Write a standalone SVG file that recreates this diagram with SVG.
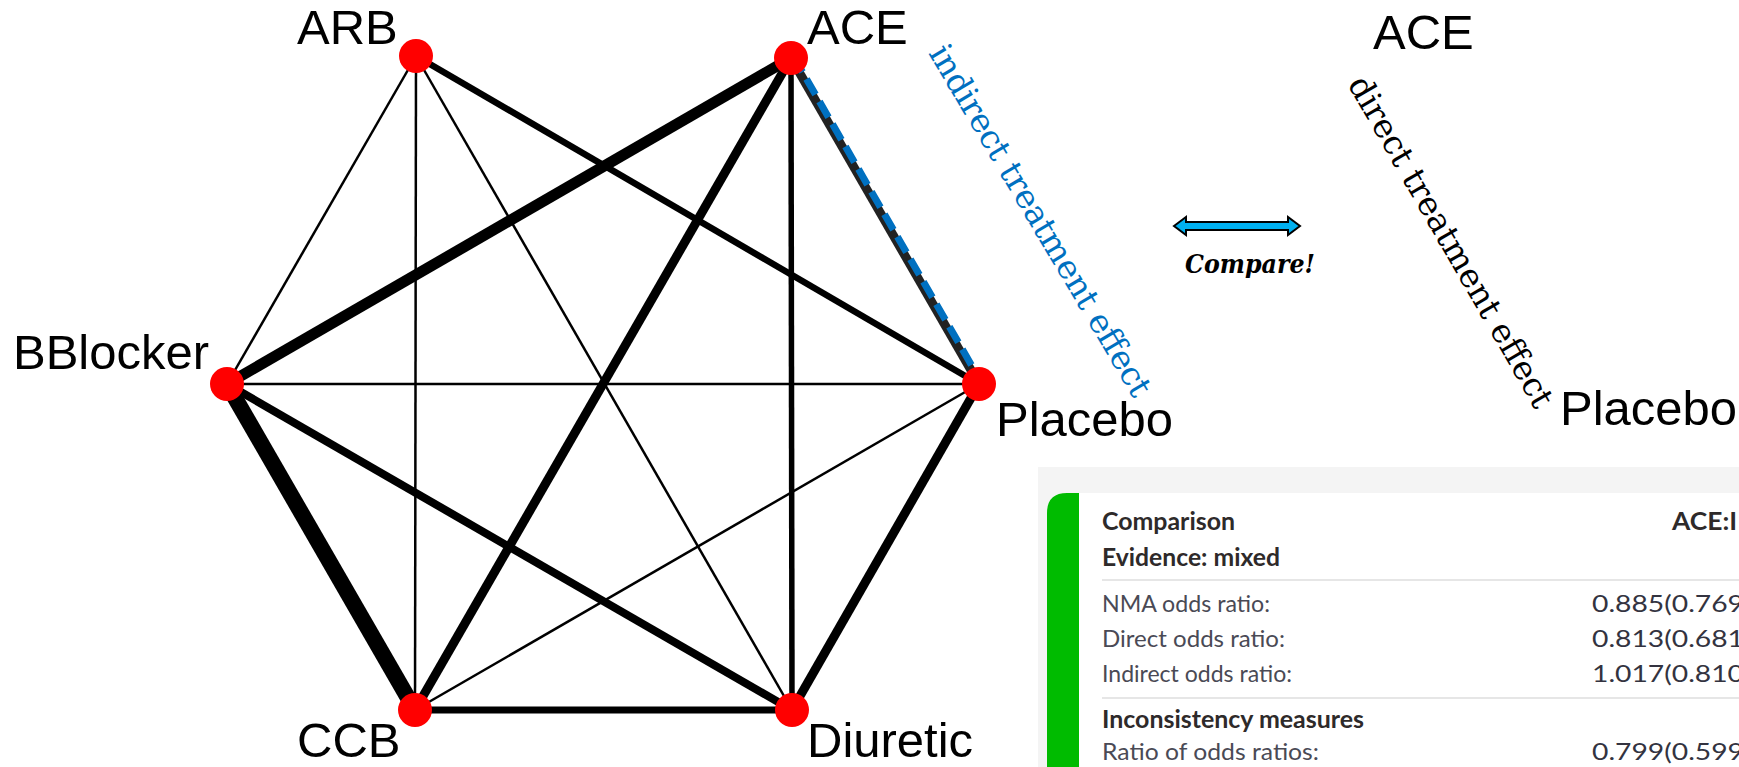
<svg xmlns="http://www.w3.org/2000/svg" width="1739" height="767" viewBox="0 0 1739 767">
<style>
.lbl{font-family:"Liberation Sans",Arial,sans-serif;font-size:49px;fill:#000}
.node{fill:#ff0000}
.e{stroke:#000;fill:none}
.slab{font-family:"DejaVu Serif","Liberation Serif",serif;font-size:33px}
.tb{font-family:"Liberation Sans Narrow","Lato",sans-serif;font-size:24px}
.hd{fill:#2e2a2a;font-weight:bold}
.rw{fill:#4a4a55}
.nm{fill:#333340}
</style>
<rect width="1739" height="767" fill="#fff"/>
<g id="connectors">
<line class="e" x1="416" y1="56" x2="227" y2="384" stroke-width="2.5"/>
<line class="e" x1="416" y1="56" x2="415" y2="710" stroke-width="2.5"/>
<line class="e" x1="416" y1="56" x2="792" y2="710" stroke-width="2.5"/>
<line class="e" x1="416" y1="56" x2="979" y2="384" stroke-width="6.5"/>
<line class="e" x1="791" y1="58" x2="227" y2="384" stroke-width="11"/>
<line class="e" x1="791" y1="58" x2="415" y2="710" stroke-width="9"/>
<line class="e" x1="791" y1="58" x2="792" y2="710" stroke-width="5.5"/>
<line class="e" x1="227" y1="384" x2="979" y2="384" stroke-width="2.5"/>
<line class="e" x1="227" y1="384" x2="415" y2="710" stroke-width="16"/>
<line class="e" x1="227" y1="384" x2="792" y2="710" stroke-width="8"/>
<line class="e" x1="415" y1="710" x2="979" y2="384" stroke-width="2.5"/>
<line class="e" x1="415" y1="710" x2="792" y2="710" stroke-width="7"/>
<line class="e" x1="792" y1="710" x2="979" y2="384" stroke-width="9"/>
<line x1="791" y1="58" x2="979" y2="384" stroke="#222" stroke-width="9"/>
<line x1="793.5" y1="56.5" x2="981.5" y2="382.5" stroke="#0070C0" stroke-width="7" stroke-dasharray="18 8"/>
</g>
<g id="node-ARB"><circle class="node" cx="416" cy="56" r="17"/><text class="lbl" x="297" y="44">ARB</text></g>
<g id="node-ACE"><circle class="node" cx="791" cy="58" r="17"/><text class="lbl" x="807" y="44">ACE</text></g>
<g id="node-BBlocker"><circle class="node" cx="227" cy="384" r="17"/><text class="lbl" x="13" y="369">BBlocker</text></g>
<g id="node-Placebo"><circle class="node" cx="979" cy="384" r="17"/><text class="lbl" x="996" y="436">Placebo</text></g>
<g id="node-CCB"><circle class="node" cx="415" cy="710" r="17"/><text class="lbl" x="297" y="757">CCB</text></g>
<g id="node-Diuretic"><circle class="node" cx="792" cy="710" r="17"/><text class="lbl" x="807" y="757">Diuretic</text></g>
<g id="indirect-label"><text class="slab" fill="#0070C0" transform="translate(928,53) rotate(59.3)" textLength="403" lengthAdjust="spacing">indirect treatment effect</text></g>
<g id="compare">
<path d="M1174,226 L1186,217 L1186,222 L1288,222 L1288,217 L1300,226 L1288,235 L1288,230 L1186,230 L1186,235 Z" fill="#00B0F0" stroke="#000" stroke-width="2" stroke-linejoin="miter"/>
<text x="1185" y="273" font-family="'DejaVu Serif','Liberation Serif',serif" font-size="26" font-weight="bold" font-style="italic" fill="#000" textLength="130" lengthAdjust="spacingAndGlyphs">Compare!</text>
</g>
<g id="direct-ACE"><text class="lbl" x="1373" y="49">ACE</text></g>
<g id="direct-Placebo"><text class="lbl" x="1560" y="425">Placebo</text></g>
<g id="direct-label"><text class="slab" fill="#000" transform="translate(1347,84) rotate(60)" textLength="377" lengthAdjust="spacing">direct treatment effect</text></g>
<g id="results-panel">
<rect x="1038" y="467" width="701" height="300" fill="#f4f4f4"/>
<path d="M1047,767 L1047,513 Q1047,493 1067,493 L1739,493 L1739,767 Z" fill="#fff"/>
<path d="M1047,767 L1047,513 Q1047,493 1067,493 L1079,493 L1079,767 Z" fill="#00BB00"/>
<line x1="1102" y1="580" x2="1739" y2="580" stroke="#e6e6e6" stroke-width="2"/>
<line x1="1102" y1="698" x2="1739" y2="698" stroke="#e6e6e6" stroke-width="2"/>
<text class="tb hd" x="1102" y="530" textLength="133" lengthAdjust="spacingAndGlyphs">Comparison</text>
<text class="tb hd" x="1102" y="566" textLength="178" lengthAdjust="spacingAndGlyphs">Evidence: mixed</text>
<text class="tb rw" x="1102" y="612" textLength="168" lengthAdjust="spacingAndGlyphs">NMA odds ratio:</text>
<text class="tb rw" x="1102" y="647" textLength="183" lengthAdjust="spacingAndGlyphs">Direct odds ratio:</text>
<text class="tb rw" x="1102" y="682" textLength="190" lengthAdjust="spacingAndGlyphs">Indirect odds ratio:</text>
<text class="tb hd" x="1102" y="728" textLength="262" lengthAdjust="spacingAndGlyphs">Inconsistency measures</text>
<text class="tb rw" x="1102" y="760" textLength="217" lengthAdjust="spacingAndGlyphs">Ratio of odds ratios:</text>
<text class="tb hd" x="1672" y="530" textLength="65" lengthAdjust="spacingAndGlyphs">ACE:I</text>
<text class="tb nm" x="1592" y="612" textLength="152" lengthAdjust="spacingAndGlyphs">0.885(0.769</text>
<text class="tb nm" x="1592" y="647" textLength="152" lengthAdjust="spacingAndGlyphs">0.813(0.681</text>
<text class="tb nm" x="1592" y="682" textLength="152" lengthAdjust="spacingAndGlyphs">1.017(0.810</text>
<text class="tb nm" x="1592" y="760" textLength="152" lengthAdjust="spacingAndGlyphs">0.799(0.599</text>
</g>
</svg>
